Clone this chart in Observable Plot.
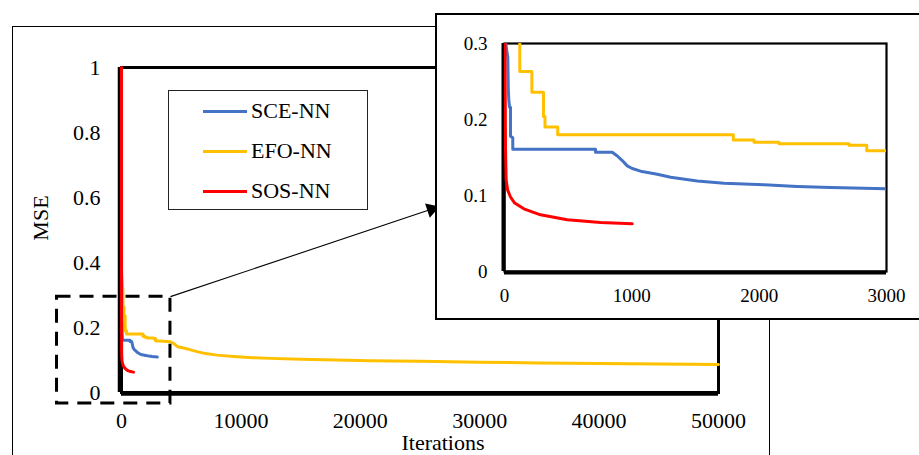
<!DOCTYPE html>
<html><head><meta charset="utf-8">
<script src="https://cdn.jsdelivr.net/npm/d3@7"></script>
<script src="https://cdn.jsdelivr.net/npm/@observablehq/plot@0.6"></script>
<style>
body{margin:0;background:#fff;}
#wrap{position:relative;width:919px;height:455px;overflow:hidden;font-family:"Liberation Serif","Times New Roman",serif;background:#fff;}
#wrap > svg{position:absolute;}
.outer{position:absolute;left:11.5px;top:25.5px;width:758px;height:500px;border:1.3px solid #000;box-sizing:border-box;}
.legend{position:absolute;border:1.3px solid #222;box-sizing:border-box;background:#fff;}
.legend .sw{position:absolute;height:3px;}
.legend .lb{position:absolute;font-size:22px;line-height:22px;color:#000;white-space:nowrap;}
.insetbox{position:absolute;left:434.5px;top:12.5px;width:486px;height:307px;border:2.8px solid #000;box-sizing:border-box;background:#fff;}
</style></head><body><div id="wrap"></div>
<script>
// ---- data (iteration, MSE) ----
const seriesNames = ["SCE-NN", "EFO-NN", "SOS-NN"];
const seriesColors = ["#4472C4", "#FFC000", "#FF0000"];

const sceNN = [[0,0.32],[10,0.30],[20,0.288],[26,0.282],[30,0.24],[34,0.225],[40,0.216],[47,0.216],[47,0.178],[65,0.176],[65,0.161],
  [715,0.161],[715,0.157],[846,0.157],[886,0.152],[925,0.146],[964,0.139],[1003,0.1355],[1069,0.132],[1200,0.128],[1305,0.124],
  [1514,0.119],[1724,0.116],[2038,0.114],[2300,0.112],[2562,0.1105],[3000,0.109]];

const efoNN = [[0,0.375],[60,0.34],[120,0.31],[120,0.263],[215,0.263],[215,0.236],[306,0.236],[306,0.204],[318,0.204],[318,0.19],
  [418,0.19],[418,0.18],[1797,0.18],[1797,0.173],[1960,0.173],[1960,0.170],[2156,0.170],[2156,0.168],[2706,0.168],[2706,0.166],
  [2845,0.166],[2845,0.159],[3500,0.158],[4100,0.156],[4400,0.15],[4700,0.141],[5200,0.137],[5800,0.131],[6400,0.125],[6900,0.121],
  [8000,0.115],[9400,0.111],[11000,0.107],[12500,0.105],[15000,0.102],[18000,0.100],[20800,0.098],[25000,0.096],[30000,0.093],
  [35000,0.091],[40000,0.089],[45000,0.088],[50000,0.086]];

const sosNN = [[0,1.0],[1,0.7],[3,0.4],[5,0.25],[8,0.16],[13,0.12],[25,0.107],[47,0.098],[80,0.09],[152,0.0825],[283,0.0746],
  [492,0.068],[754,0.0645],[1003,0.0627]];

const mainXTicks = [0, 10000, 20000, 30000, 40000, 50000];
const mainYTicks = [0, 0.2, 0.4, 0.6, 0.8, 1];
const insetXTicks = [0, 1000, 2000, 3000];
const insetYTicks = [0, 0.1, 0.2, 0.3];
const xTitle = "Iterations";
const yTitle = "MSE";

// annotation: zoom box and pointer arrow (main-chart data coordinates)
const zoomBox = [{x1: -5400, x2: 4100, y1: -0.034, y2: 0.295}];
const zoomArrow = [{x1: 4100, y1: 0.295, x2: 26380, y2: 0.569}];

// ---- build table ----
const allSeries = [sceNN, efoNN, sosNN];
const rows = allSeries.flatMap((s, i) => s.map(([it, v]) => ({series: seriesNames[i], it, v})));
const colorOf = Object.fromEntries(seriesNames.map((n, i) => [n, seriesColors[i]]));
const fmtY = d => String(+d.toFixed(2));

const wrap = document.getElementById("wrap");

const outer = document.createElement("div");
outer.className = "outer";
wrap.appendChild(outer);

const lineMarks = (clip, sw) => seriesNames.map(n =>
  Plot.line(rows.filter(r => r.series === n), {x: "it", y: "v", stroke: colorOf[n], strokeWidth: sw, clip, strokeLinejoin: "round"}));

const main = Plot.plot({
  width: 919, height: 455,
  marginLeft: 121, marginRight: 201, marginTop: 67, marginBottom: 63,
  style: {fontFamily: '"Liberation Serif","Times New Roman",serif', fontSize: "22px", background: "transparent", color: "#000"},
  x: {domain: [0, 50000], ticks: mainXTicks, tickSize: 0, tickPadding: 20, tickFormat: d3.format("d"), label: null},
  y: {domain: [0, 1], ticks: mainYTicks, tickSize: 0, tickPadding: 21, tickFormat: fmtY, label: null},
  marks: [
    Plot.frame({stroke: "#000", strokeWidth: 3}),
    Plot.ruleX([0], {stroke: "#000", strokeWidth: 4.5, dx: -1.5}),
    Plot.ruleY([0], {stroke: "#000", strokeWidth: 4.5, dy: 1}),
    ...lineMarks(false, 3),
    Plot.rect(zoomBox, {x1: "x1", x2: "x2", y1: "y1", y2: "y2", fill: "none", stroke: "#000", strokeWidth: 3, strokeDasharray: "14,9"}),
    Plot.link(zoomArrow, {x1: "x1", y1: "y1", x2: "x2", y2: "y2", stroke: "#000", strokeWidth: 1.1}),
    Plot.dot(zoomArrow, {x: "x2", y: "y2", symbol: "triangle", r: 5.5, fill: "#000", stroke: "none", rotate: 71.5, dx: -5, dy: 1.7}),
    Plot.text([xTitle], {frameAnchor: "bottom", textAnchor: "middle", lineAnchor: "middle", dx: 23, dy: 50, fontSize: 22, fill: "#000"}),
    Plot.text([yTitle], {frameAnchor: "left", textAnchor: "middle", lineAnchor: "middle", dx: -81, dy: -12, rotate: -90, fontSize: 22, fill: "#000"})
  ]
});
main.style.left = "0px"; main.style.top = "0px";
wrap.appendChild(main);

// legend
const legend = document.createElement("div");
legend.className = "legend";
Object.assign(legend.style, {left: "168px", top: "90px", width: "200px", height: "120px"});
seriesNames.forEach((n, i) => {
  const cy = 20 + i * 40;
  const sw = document.createElement("div");
  sw.className = "sw";
  Object.assign(sw.style, {left: "34px", top: (cy - 1.5) + "px", width: "44px", background: colorOf[n]});
  const lb = document.createElement("div");
  lb.className = "lb";
  Object.assign(lb.style, {left: "82px", top: (cy - 11) + "px"});
  lb.textContent = n;
  legend.appendChild(sw); legend.appendChild(lb);
});
wrap.appendChild(legend);

// inset
const box = document.createElement("div");
box.className = "insetbox";
wrap.appendChild(box);

const inset = Plot.plot({
  width: 482, height: 304,
  marginLeft: 68, marginRight: 32, marginTop: 29, marginBottom: 47,
  style: {fontFamily: '"Liberation Serif","Times New Roman",serif', fontSize: "19px", background: "transparent", color: "#000"},
  x: {domain: [0, 3000], ticks: insetXTicks, tickSize: 0, tickPadding: 17, tickFormat: d3.format("d"), label: null},
  y: {domain: [0, 0.3], ticks: insetYTicks, tickSize: 0, tickPadding: 17, tickFormat: fmtY, label: null},
  marks: [
    Plot.frame({stroke: "#000", strokeWidth: 2.2}),
    Plot.ruleX([0], {stroke: "#000", strokeWidth: 4, dx: -1}),
    Plot.ruleY([0], {stroke: "#000", strokeWidth: 4, dy: 1}),
    ...lineMarks(true, 3)
  ]
});
inset.style.left = "436px"; inset.style.top = "14px";
wrap.appendChild(inset);
</script>
</body></html>
